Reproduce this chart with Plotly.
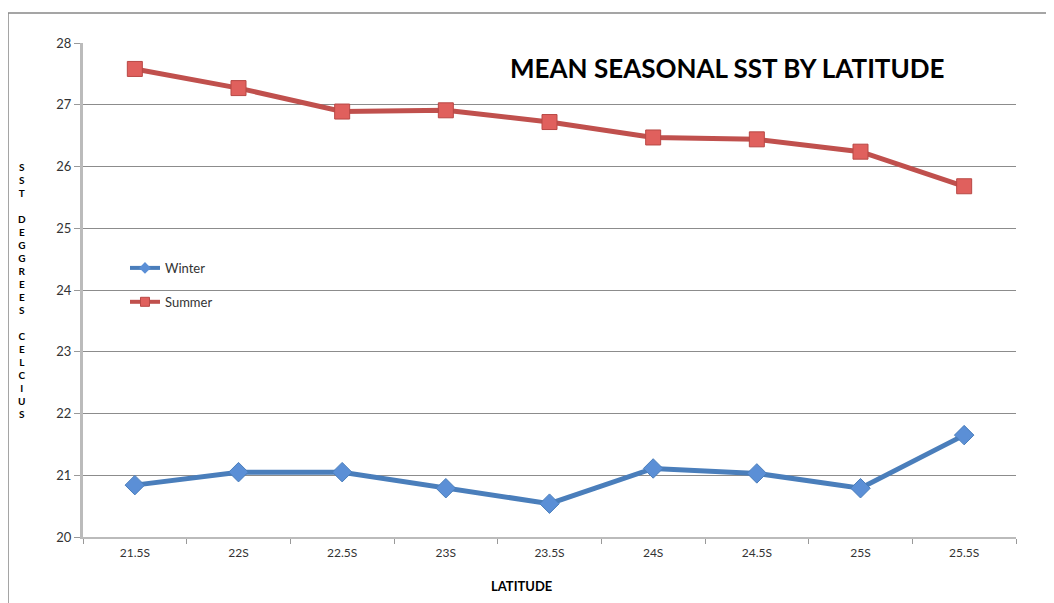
import plotly.graph_objects as go

latitudes = ["21.5S", "22S", "22.5S", "23S", "23.5S", "24S", "24.5S", "25S", "25.5S"]
winter = [20.84, 21.05, 21.05, 20.79, 20.54, 21.11, 21.03, 20.79, 21.65]
summer = [27.58, 27.27, 26.89, 26.91, 26.72, 26.47, 26.44, 26.24, 25.68]
y_title = "SST DEGGREES CELCIUS"

BLUE = "#4A7EBB"
RED = "#C0504D"
FONT = "Lato, Open Sans, sans-serif"

fig = go.Figure()
fig.add_trace(go.Scatter(
    x=latitudes, y=winter, name="Winter", mode="lines+markers",
    showlegend=False,
    line=dict(color=BLUE, width=5),
    marker=dict(symbol="diamond", size=15, color="#5B8FD6",
                line=dict(color="#4A7EBB", width=1)),
))
fig.add_trace(go.Scatter(
    x=latitudes, y=summer, name="Summer", mode="lines+markers",
    showlegend=False,
    line=dict(color=RED, width=5),
    marker=dict(symbol="square", size=15, color="#E0605D",
                line=dict(color="#B84845", width=1)),
))

# legend-only entries, with the small markers of the original legend
fig.add_trace(go.Scatter(
    x=[None], y=[None], name="Winter", mode="lines+markers", legendgroup="w",
    line=dict(color=BLUE, width=4),
    marker=dict(symbol="diamond", size=9, color="#5B8FD6"),
))
fig.add_trace(go.Scatter(
    x=[None], y=[None], name="Summer", mode="lines+markers", legendgroup="s",
    line=dict(color=RED, width=4),
    marker=dict(symbol="square", size=9, color="#E0605D",
                line=dict(color="#B84845", width=1)),
))

# stacked letters of the y-axis title, one per line
stacked = "<br>".join("" if ch == " " else ch for ch in y_title)

fig.update_layout(
    width=1054, height=603,
    margin=dict(l=75, r=46, t=35, b=74),
    paper_bgcolor="white", plot_bgcolor="white",
    font=dict(family=FONT, size=13, color="#333333"),
    showlegend=True,
    legend=dict(x=0.045, y=0.575, xanchor="left", yanchor="top",
                bgcolor="rgba(0,0,0,0)", font=dict(size=13, color="#333333"),
                tracegroupgap=14, itemwidth=30, itemsizing="trace"),
    xaxis=dict(
        type="category", showgrid=False, tickson="boundaries",
        ticks="outside", ticklen=5, tickcolor="#999999",
        showline=True, linecolor="#BBBBBB", linewidth=2,
        tickfont=dict(size=12, color="#333333"), range=[-0.5, 8.5],
        ticklabelstandoff=4,
    ),
    yaxis=dict(
        range=[20, 28], dtick=1, showgrid=True, gridcolor="#8C8C8C", gridwidth=1,
        ticks="outside", ticklen=6, tickcolor="#999999",
        showline=True, linecolor="#BBBBBB", linewidth=3,
        tickfont=dict(size=13, color="#333333"), zeroline=False,
    ),
    annotations=[
        dict(text="<b>MEAN SEASONAL SST BY LATITUDE</b>", x=0.691, y=0.949,
             xref="paper", yref="paper", xanchor="center", yanchor="middle",
             showarrow=False, font=dict(family=FONT, size=26, color="black")),
        dict(text="<b>LATITUDE</b>", x=0.4705, y=-0.099, xref="paper", yref="paper",
             xanchor="center", yanchor="middle",
             showarrow=False, font=dict(family=FONT, size=13, color="black")),
        dict(text="<b>" + stacked + "</b>", x=-0.0654, y=0.5, xref="paper", yref="paper",
             xanchor="center", yanchor="middle", showarrow=False,
             font=dict(family=FONT, size=10, color="black")),
    ],
    shapes=[
        dict(type="rect", xref="paper", yref="paper",
             x0=-75 / 933, x1=1.2, y0=-0.3, y1=1 + 30 / 494,
             line=dict(color="#888888", width=1.5), fillcolor="rgba(0,0,0,0)",
             layer="below"),
    ],
)

fig.write_html("out.html")
